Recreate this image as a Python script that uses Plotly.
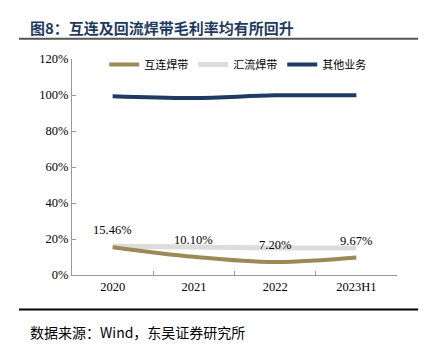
import plotly.graph_objects as go

categories = ["2020", "2021", "2022", "2023H1"]
interconnect = [15.46, 10.10, 7.20, 9.67]
busbar = [16.0, 15.5, 15.0, 15.0]
other = [99.3, 98.3, 99.8, 99.8]
label_text = ["15.46%", "10.10%", "7.20%", "9.67%"]
y_ticks = [0, 20, 40, 60, 80, 100, 120]
y_tick_text = ["0%", "20%", "40%", "60%", "80%", "100%", "120%"]

serif = "Liberation Serif, Times New Roman, serif"
cjk = "Noto Sans CJK SC, sans-serif"

fig = go.Figure()
fig.add_trace(go.Scatter(x=categories, y=busbar, name="汇流焊带", mode="lines", legendrank=2,
                         line=dict(color="#dcdcdc", width=5, shape="spline", smoothing=1.0)))
fig.add_trace(go.Scatter(x=categories, y=other, name="其他业务", mode="lines", legendrank=3,
                         line=dict(color="#1f3b63", width=4, shape="spline", smoothing=1.0)))
fig.add_trace(go.Scatter(x=categories, y=interconnect, name="互连焊带", mode="lines", legendrank=1,
                         line=dict(color="#9a8a55", width=4, shape="spline", smoothing=1.0)))

for i, (v, t) in enumerate(zip(interconnect, label_text)):
    fig.add_annotation(x=i, y=v, text=t, showarrow=False, yshift=17,
                       font=dict(family=serif, size=12.5, color="#000000"))

fig.add_annotation(xref="paper", yref="paper", x=-0.135, y=1.148, xanchor="left", yanchor="middle",
                   text="<b>图8：互连及回流焊带毛利率均有所回升</b>", showarrow=False,
                   font=dict(family=cjk, size=15, color="#1f3a5f"))
fig.add_annotation(xref="paper", yref="paper", x=-0.135, y=-0.265, xanchor="left", yanchor="middle",
                   text="数据来源：Wind，东吴证券研究所", showarrow=False,
                   font=dict(family=cjk, size=14, color="#000000"))

fig.add_shape(type="line", xref="paper", yref="paper", x0=-0.163, x1=1.065, y0=1.094, y1=1.094,
              line=dict(color="#555555", width=2))
fig.add_shape(type="line", xref="paper", yref="paper", x0=-0.163, x1=1.065, y0=-0.16, y1=-0.16,
              line=dict(color="#000000", width=2))

fig.update_layout(
    width=429, height=350,
    margin=dict(l=72, r=32, t=59, b=75),
    paper_bgcolor="white", plot_bgcolor="white",
    showlegend=True,
    legend=dict(orientation="h", x=0.51, xanchor="center", y=0.975, yanchor="middle",
                font=dict(family=cjk, size=11, color="#000000"),
                itemwidth=30, bgcolor="rgba(0,0,0,0)"),
    xaxis=dict(type="category", showline=True, linecolor="#999999", linewidth=1,
               ticks="inside", ticklen=4, tickcolor="#999999", tickson="boundaries",
               tickfont=dict(family=serif, size=12.5, color="#000000"), showgrid=False,
               range=[-0.5, 3.5]),
    yaxis=dict(range=[0, 120], tickvals=y_ticks, ticktext=y_tick_text, showline=True,
               linecolor="#999999", linewidth=1, ticks="inside", ticklen=4, tickcolor="#999999",
               tickfont=dict(family=serif, size=12.5, color="#000000"), showgrid=False,
               zeroline=False),
)

fig.write_html("out.html")
